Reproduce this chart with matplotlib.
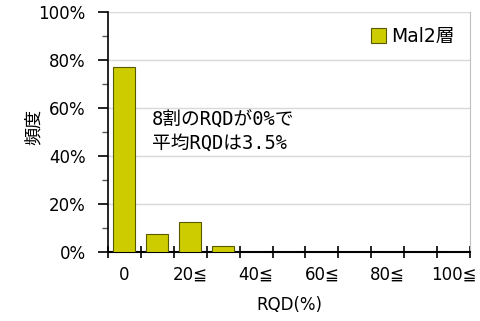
import numpy as np
import matplotlib.pyplot as plt
from matplotlib.ticker import PercentFormatter

plt.rcParams['font.family'] = ['DejaVu Sans', 'Noto Sans CJK JP']

labels = ["0", "", "20≦", "", "40≦", "", "60≦", "", "80≦", "", "100≦"]
freq = [0.772, 0.075, 0.126, 0.025, 0, 0, 0, 0, 0, 0, 0]
series_name = "Mal2層"
note = "8割のRQDが0%で\n平均RQDは3.5%"

fig = plt.figure(figsize=(4.81, 3.21), dpi=100)
ax = fig.add_axes([108/481, 69/321, 362/481, 240/321])

x = np.arange(len(freq))
ax.bar(x, freq, width=0.67, color="#CCCC00", edgecolor="#5a5a00", linewidth=0.8,
       label=series_name, zorder=3)

ax.set_xlim(-0.5, len(freq) - 0.5)
ax.set_ylim(0, 1)

ax.set_xticks(np.arange(-0.5, len(freq)), labels=[])
ax.set_xticks(x, labels=labels, minor=True)
ax.tick_params(axis="x", which="major", direction="inout", length=8, width=1.2, color="black")
ax.tick_params(axis="x", which="minor", length=0, pad=10, labelsize=12)

ax.set_yticks(np.arange(0, 1.01, 0.2))
ax.set_yticks(np.arange(0.1, 1.0, 0.2), minor=True)
ax.yaxis.set_major_formatter(PercentFormatter(1, decimals=0))
ax.tick_params(axis="y", which="major", direction="out", length=7, width=1.2, labelsize=12, pad=9)
ax.tick_params(axis="y", which="minor", direction="out", length=4, width=1, color="#555555")

ax.grid(axis="y", color="#d9d9d9", linewidth=1, zorder=0)
ax.spines["top"].set_visible(False)
ax.spines["right"].set_color("#bfbfbf")
ax.spines["left"].set_linewidth(1.2)
ax.spines["bottom"].set_linewidth(1.5)

ax.set_xlabel("RQD(%)", fontsize=12, labelpad=9)
ax.set_ylabel("頻度", fontsize=13, family=['Noto Sans CJK JP'])
ax.yaxis.set_label_coords(-0.18, 0.52)

ax.text(0.83, 0.50, note, fontsize=13.5, linespacing=1.25,
        family=['DejaVu Sans Mono', 'Noto Sans CJK JP'], va="center", ha="left")

ax.legend(loc="upper right", frameon=False, handlelength=0.8,
          handleheight=0.8, handletextpad=0.3, borderaxespad=0.4,
          prop={'family': ['DejaVu Sans', 'Noto Sans CJK JP'], 'size': 13.5})

fig.savefig("out.png", dpi=100)
